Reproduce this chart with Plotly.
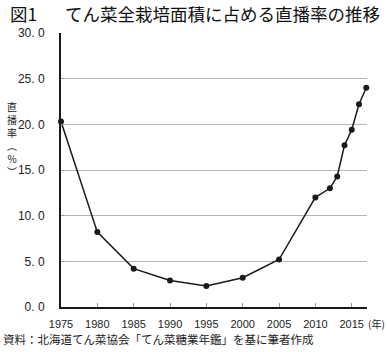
import plotly.graph_objects as go

years = [1975, 1980, 1985, 1990, 1995, 2000, 2005, 2010, 2012, 2013, 2014, 2015, 2016, 2017]
rate = [20.3, 8.2, 4.2, 2.9, 2.3, 3.2, 5.2, 12.0, 13.0, 14.3, 17.7, 19.4, 22.2, 24.0]

x_ticks = [1975, 1980, 1985, 1990, 1995, 2000, 2005, 2010, 2015]
y_ticks = [0, 5, 10, 15, 20, 25, 30]
y_tick_text = ["0. 0", "5. 0", "10. 0", "15. 0", "20. 0", "25. 0", "30. 0"]

title_prefix = "図1"
title_main = "てん菜全栽培面積に占める直播率の推移"
y_label_chars = ["直", "播", "率", "︵", "%", "︶"]
x_unit = "(年)"
source = "資料：北海道てん菜協会「てん菜糖業年鑑」を基に筆者作成"

CJK = "Noto Sans CJK JP"
NUM = "Liberation Sans Narrow, Arial Narrow, Liberation Sans, sans-serif"

L, R, T, B, W, H = 61, 20, 33, 45, 387, 352
pw = W - L - R
ph = H - T - B


def px(xp):
    return (xp - L) / pw


def py(yp):
    return 1 + (T - yp) / ph


fig = go.Figure()
fig.add_trace(go.Scatter(
    x=years, y=rate, mode="lines+markers",
    line=dict(color="#1a1a1a", width=1.5),
    marker=dict(color="#1a1a1a", size=6),
    cliponaxis=False, showlegend=False,
))

fig.update_layout(
    width=W, height=H,
    margin=dict(l=L, r=R, t=T, b=B),
    paper_bgcolor="white", plot_bgcolor="white",
    xaxis=dict(
        range=[1975, 2017.1], tickvals=x_ticks, ticktext=[str(v) for v in x_ticks],
        showgrid=False, zeroline=False,
        showline=True, linecolor="#1a1a1a", linewidth=2,
        ticks="inside", ticklen=4, tickcolor="#999999", tickwidth=1,
        tickfont=dict(family=NUM, size=11, color="#222"),
        ticklabelstandoff=6,
    ),
    yaxis=dict(
        range=[0, 30], tickvals=y_ticks, ticktext=y_tick_text,
        showgrid=True, gridcolor="#b5b5b5", gridwidth=1, zeroline=False,
        showline=True, linecolor="#1a1a1a", linewidth=2,
        ticks="inside", ticklen=4, tickcolor="#999999",
        tickfont=dict(family=NUM, size=12, color="#222"),
        ticklabelstandoff=12,
    ),
)

ann = [
    dict(text=title_prefix, x=px(8), y=py(13), xanchor="left", yanchor="middle",
         font=dict(family=CJK, size=17.5, color="#111")),
    dict(text=title_main, x=px(63), y=py(13), xanchor="left", yanchor="middle",
         font=dict(family=CJK, size=17.5, color="#111")),
    dict(text="<br>".join(y_label_chars), x=px(12), y=py(139), xanchor="center", yanchor="middle",
         font=dict(family=CJK, size=10, color="#222")),
    dict(text=x_unit, x=px(376.5), y=py(323), xanchor="center", yanchor="middle",
         font=dict(family=CJK, size=10, color="#222")),
    dict(text=source, x=px(1), y=py(339), xanchor="left", yanchor="middle",
         font=dict(family=CJK, size=11.5, color="#222")),
]
for a in ann:
    a.update(xref="paper", yref="paper", showarrow=False)
fig.update_layout(annotations=ann)

fig.write_html("out.html")
